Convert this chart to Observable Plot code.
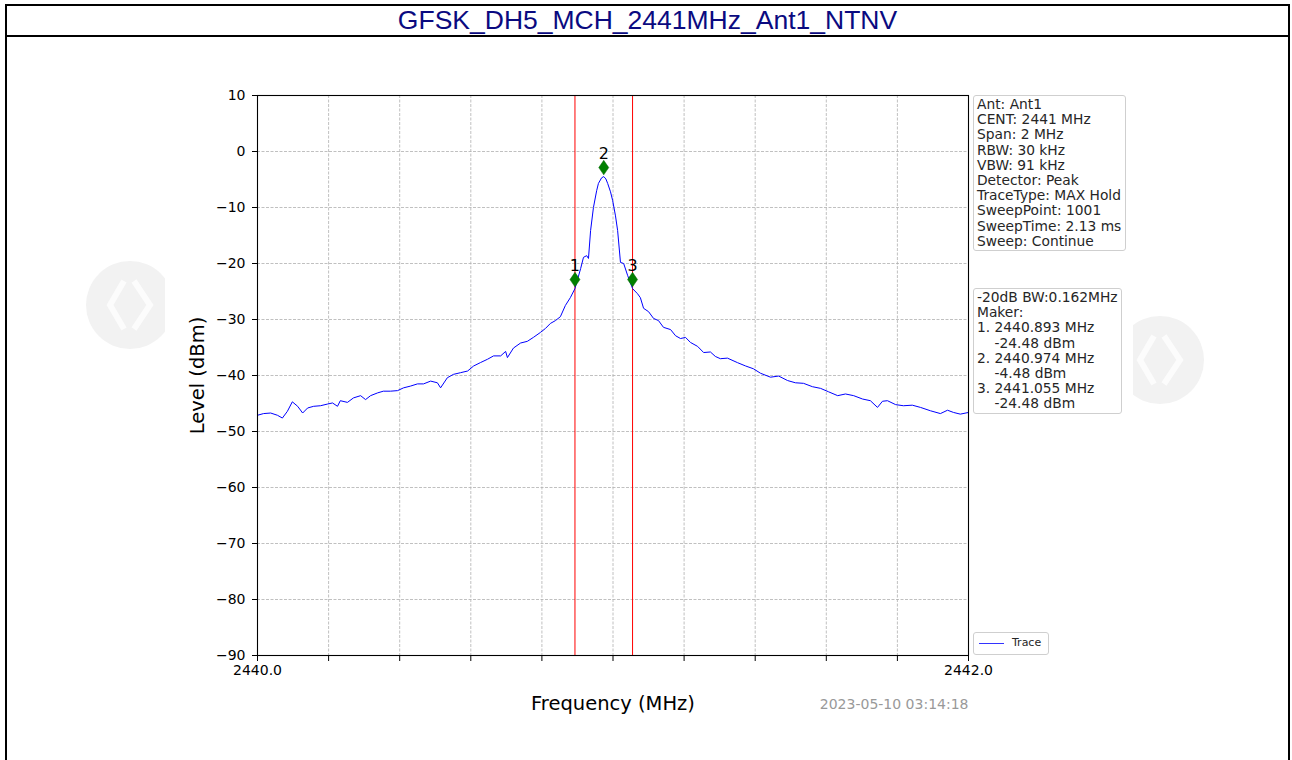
<!DOCTYPE html>
<html>
<head>
<meta charset="utf-8">
<script src="https://cdn.jsdelivr.net/npm/d3@7"></script>
<script src="https://cdn.jsdelivr.net/npm/@observablehq/plot@0.6"></script>
<style>
  html, body { margin: 0; padding: 0; background: #fff; width: 1292px; height: 760px; overflow: hidden; }
  #frame { position: absolute; left: 5px; top: 4px; width: 1281px; height: 800px; border: 2px solid #000; border-bottom: none; box-sizing: content-box; }
  #title { position: absolute; left: 7px; top: 6px; width: 1281px; height: 29px; border-bottom: 2px solid #000;
           font-family: "Liberation Sans", Arial, sans-serif; font-size: 26.5px; color: #0a0a80; text-align: center; line-height: 29px; }
  .wm { position: absolute; width: 92px; height: 92px; }
  #figbg { position: absolute; left: 165px; top: 38px; width: 968px; height: 722px; background: #fff; }
  #chart { position: absolute; left: 7px; top: 37px; }
  .box { position: absolute; font-family: "DejaVu Sans", sans-serif; font-size: 13.8px; line-height: 15.2px; color: #262626;
         border: 1px solid #cfcfcf; border-radius: 3px; background: rgba(255,255,255,0.85); white-space: pre; padding: 1px 3px 2px 3px; box-sizing: border-box; }
  #legend { position: absolute; left: 973px; top: 632px; width: 76px; height: 23px; border: 1px solid #cfcfcf; border-radius: 3px; background: #fff;
            font-family: "DejaVu Sans", sans-serif; font-size: 11px; color: #262626; box-sizing: border-box; }
  #legend .ln { position: absolute; left: 5px; top: 10px; width: 25px; height: 1.4px; background: #3333ff; }
  #legend .tx { position: absolute; left: 38px; top: 3px; }
</style>
</head>
<body>
<svg class="wm" style="left:84px; top:259px;" viewBox="0 0 92 92"><circle cx="46" cy="46" r="44" fill="#f2f2f2"/><path d="M40 22 L26 46 L40 70 M50 22 L66 46 L50 70" stroke="#fcfcfc" stroke-width="6" fill="none"/></svg>
<svg class="wm" style="left:1114px; top:314px;" viewBox="0 0 92 92"><circle cx="46" cy="46" r="44" fill="#f2f2f2"/><path d="M40 22 L26 46 L40 70 M50 22 L66 46 L50 70" stroke="#fcfcfc" stroke-width="6" fill="none"/></svg>
<div id="figbg"></div>
<div id="frame"></div>
<div id="title"></div>
<div id="chart"></div>
<div class="box" id="info1" style="left:973px; top:95px; width:153px; height:156px;"></div>
<div class="box" id="info2" style="left:973px; top:288px; width:149px; height:126px;"></div>
<div id="legend"><div class="ln"></div><div class="tx">Trace</div></div>
<script>
// ---- data ----
const freq = [2440.000, 2440.017, 2440.037, 2440.056, 2440.070, 2440.084, 2440.098, 2440.113, 2440.127, 2440.141,
  2440.158, 2440.177, 2440.197, 2440.211, 2440.225, 2440.233, 2440.253, 2440.270, 2440.290, 2440.304,
  2440.318, 2440.338, 2440.354, 2440.374, 2440.394, 2440.411, 2440.430, 2440.450, 2440.467, 2440.487,
  2440.506, 2440.515, 2440.534, 2440.551, 2440.571, 2440.591, 2440.608, 2440.627, 2440.647, 2440.664,
  2440.684, 2440.698, 2440.703, 2440.720, 2440.740, 2440.759, 2440.776, 2440.796, 2440.810, 2440.824,
  2440.838, 2440.852, 2440.866, 2440.880, 2440.893, 2440.909, 2440.917, 2440.926, 2440.931, 2440.937,
  2440.945, 2440.954, 2440.959, 2440.968, 2440.974, 2440.980, 2440.985, 2440.993, 2440.999, 2441.007,
  2441.013, 2441.021, 2441.030, 2441.041, 2441.055, 2441.069, 2441.077, 2441.086, 2441.100, 2441.114,
  2441.128, 2441.142, 2441.162, 2441.176, 2441.190, 2441.204, 2441.218, 2441.238, 2441.255, 2441.274,
  2441.288, 2441.302, 2441.322, 2441.350, 2441.373, 2441.395, 2441.415, 2441.443, 2441.466, 2441.491,
  2441.513, 2441.536, 2441.561, 2441.584, 2441.606, 2441.632, 2441.654, 2441.677, 2441.702, 2441.724,
  2441.744, 2441.758, 2441.772, 2441.795, 2441.817, 2441.842, 2441.865, 2441.893, 2441.921, 2441.941,
  2441.958, 2441.977, 2442.000];
const level = [-47.1, -46.8, -46.7, -47.1, -47.6, -46.4, -44.7, -45.5, -46.7, -45.8,
  -45.5, -45.4, -45.1, -44.9, -45.5, -44.5, -44.8, -44.0, -43.6, -44.3,
  -43.6, -43.1, -42.8, -42.8, -42.7, -42.2, -41.9, -41.5, -41.5, -41.0,
  -41.3, -42.2, -40.4, -39.8, -39.5, -39.2, -38.3, -37.7, -37.1, -36.5,
  -36.5, -35.7, -36.8, -35.1, -34.2, -33.9, -33.2, -32.3, -31.6, -30.7,
  -30.2, -29.5, -27.5, -26.1, -24.48, -20.9, -18.9, -18.6, -19.1, -14.1,
  -10.0, -7.0, -5.7, -4.7, -4.48, -4.9, -5.7, -7.2, -8.75, -11.5,
  -14.1, -19.8, -20.0, -22.1, -24.48, -25.4, -26.1, -28.0, -28.6, -29.8,
  -30.2, -31.4, -31.8, -32.9, -33.4, -33.2, -34.1, -34.8, -35.9, -35.8,
  -36.6, -37.0, -36.9, -37.7, -38.3, -38.8, -39.6, -40.3, -40.1, -40.9,
  -41.3, -41.4, -42.0, -42.3, -42.9, -43.6, -43.3, -43.6, -44.2, -44.5,
  -45.7, -44.6, -44.5, -45.2, -45.4, -45.3, -45.7, -46.3, -46.8, -46.2,
  -46.6, -46.9, -46.6];

const markerFreq = [2440.893, 2440.974, 2441.055];
const markerLevel = [-24.48, -4.48, -24.48];
const markerLabel = ["1", "2", "3"];
const bwLines = [2440.893, 2441.055];

const xTicks = [2440.0, 2440.2, 2440.4, 2440.6, 2440.8, 2441.0, 2441.2, 2441.4, 2441.6, 2441.8, 2442.0];
const xTickLabels = ["2440.0", "", "", "", "", "", "", "", "", "", "2442.0"];
const yTicks = [10, 0, -10, -20, -30, -40, -50, -60, -70, -80, -90];
const yTickLabels = ["10", "0", "\u221210", "\u221220", "\u221230", "\u221240", "\u221250", "\u221260", "\u221270", "\u221280", "\u221290"];

const infoLines = ["Ant: Ant1", "CENT: 2441 MHz", "Span: 2 MHz", "RBW: 30 kHz", "VBW: 91 kHz", "Detector: Peak",
  "TraceType: MAX Hold", "SweepPoint: 1001", "SweepTime: 2.13 ms", "Sweep: Continue"];
const markerLines = ["-20dB BW:0.162MHz", "Maker:", "1. 2440.893 MHz", "    -24.48 dBm", "2. 2440.974 MHz",
  "    -4.48 dBm", "3. 2441.055 MHz", "    -24.48 dBm"];
const titleText = "GFSK_DH5_MCH_2441MHz_Ant1_NTNV";
const xLabel = "Frequency (MHz)";
const yLabel = "Level (dBm)";
const stamp = "2023-05-10 03:14:18";

// ---- build ----
const trace = freq.map((f, i) => ({f, v: level[i]}));
const markers = markerFreq.map((f, i) => ({f, v: markerLevel[i], t: markerLabel[i]}));

const thinDiamond = {
  draw(ctx, size) {
    const s = Math.sqrt(size / Math.PI);
    ctx.moveTo(0, -1.45 * s);
    ctx.lineTo(s, 0);
    ctx.lineTo(0, 1.45 * s);
    ctx.lineTo(-s, 0);
    ctx.closePath();
  }
};

const xFmt = d => { const i = xTicks.findIndex(t => Math.abs(t - d) < 1e-9); return i >= 0 ? xTickLabels[i] : ""; };
const yFmt = d => { const i = yTicks.indexOf(d); return i >= 0 ? yTickLabels[i] : ""; };

const grid = {stroke: "#b0b0b0", strokeOpacity: 1, strokeWidth: 0.8, strokeDasharray: "3,1.5"};

const chart = Plot.plot({
  width: 1282,
  height: 723,
  marginLeft: 250,
  marginRight: 321,
  marginTop: 58,
  marginBottom: 105,
  style: {fontFamily: "DejaVu Sans, sans-serif", fontSize: "14px", color: "#000", background: "transparent", overflow: "visible"},
  x: {domain: [2440, 2442], label: null},
  y: {domain: [-90, 10], label: null},
  marks: [
    Plot.gridX(xTicks, grid),
    Plot.gridY(yTicks, grid),
    Plot.ruleX(bwLines, {stroke: "#ff0000", strokeWidth: 1}),
    Plot.line(trace, {x: "f", y: "v", stroke: "#0000ff", strokeWidth: 1}),
    Plot.dot(markers, {x: "f", y: "v", symbol: thinDiamond, r: 5, fill: "#008000", stroke: "#006400", strokeWidth: 0.5, dy: -9}),
    Plot.text(markers, {x: "f", y: "v", text: "t", dy: -23, fontSize: 16, fill: "#000"}),
    Plot.frame({stroke: "#000", strokeWidth: 1.1}),
    Plot.axisX(xTicks, {tickSize: 6, tickPadding: 4, tickFormat: xFmt, fontSize: 14, label: null, stroke: "#000"}),
    Plot.axisY(yTicks, {tickSize: 5, tickPadding: 7, tickFormat: yFmt, fontSize: 14, label: null, stroke: "#000"}),
    Plot.text([xLabel], {frameAnchor: "bottom", textAnchor: "middle", lineAnchor: "middle", dy: 48, fontSize: 19.5, fill: "#000"}),
    Plot.text([yLabel], {frameAnchor: "left", textAnchor: "middle", lineAnchor: "middle", dx: -60, rotate: -90, fontSize: 19.5, fill: "#000"}),
    Plot.text([stamp], {frameAnchor: "bottom-right", textAnchor: "end", lineAnchor: "middle", dy: 49, fontSize: 14, fill: "#999"})
  ]
});
document.getElementById("chart").appendChild(chart);
document.getElementById("title").textContent = titleText;
document.getElementById("info1").textContent = infoLines.join("\n");
document.getElementById("info2").textContent = markerLines.join("\n");
</script>
</body>
</html>
